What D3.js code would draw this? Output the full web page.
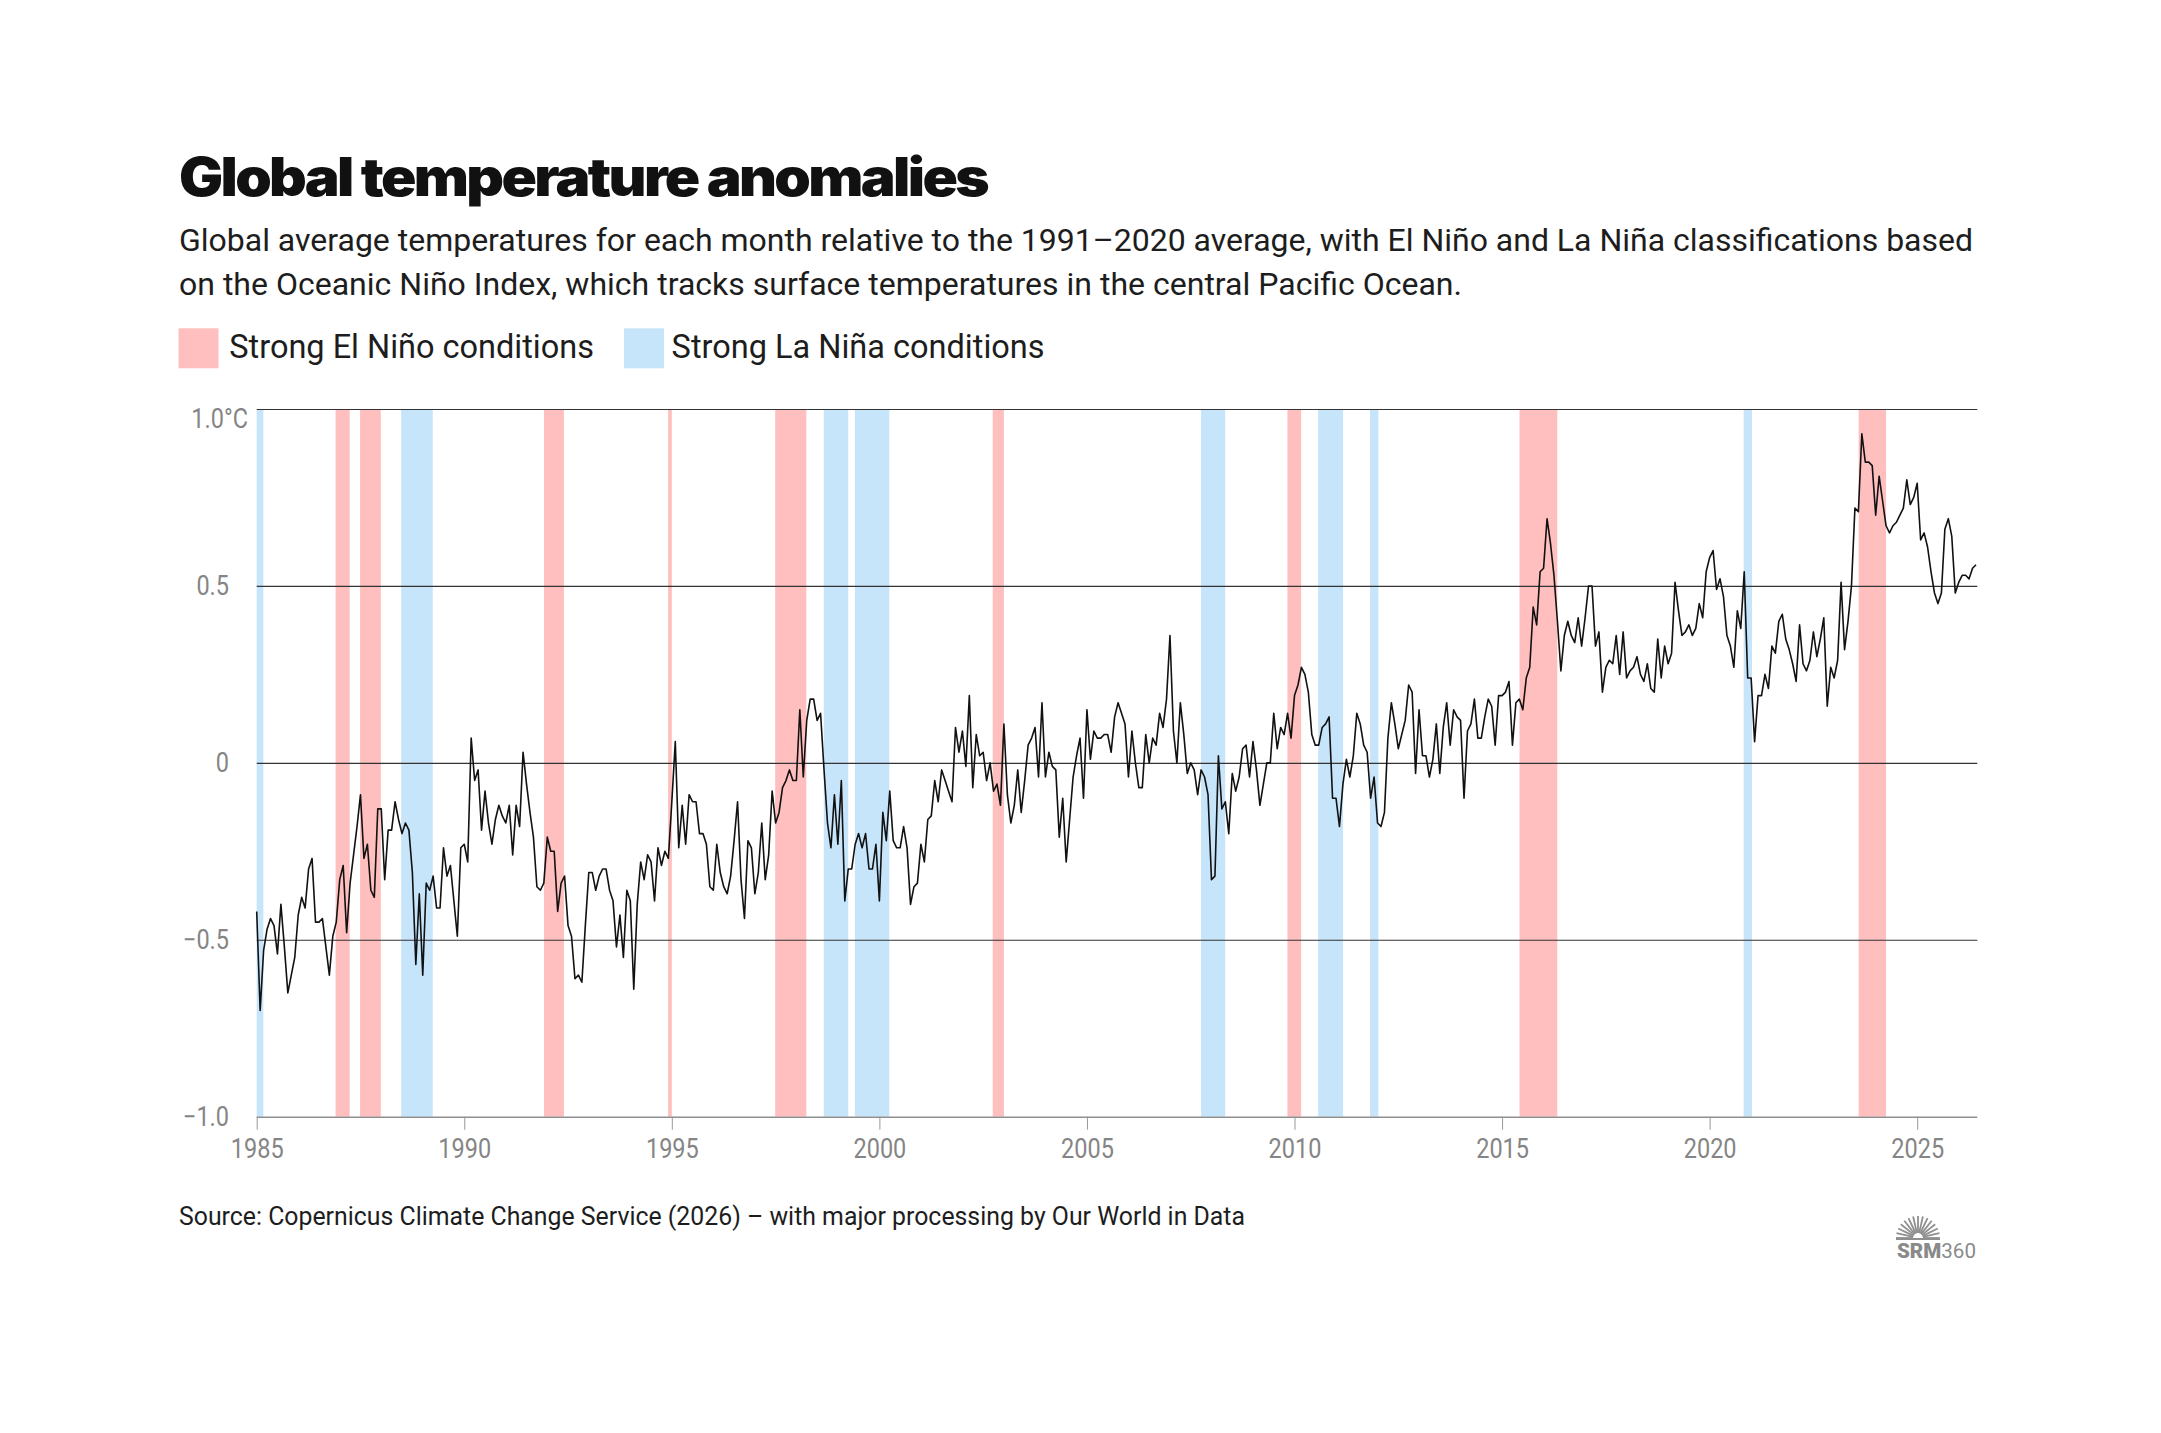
<!DOCTYPE html>
<html>
<head>
<meta charset="utf-8">
<script src="https://cdn.jsdelivr.net/npm/d3@7"></script>
<style>
  html, body { margin: 0; padding: 0; background: #ffffff; }
  svg { display: block; }
</style>
</head>
<body>
<svg id="chart" width="2161" height="1433"></svg>
<script>
// ---------------- DATA ----------------
const startYear = 1985; // first monthly value = January 1985
const anomalies1985_1994 = [
  -0.42,-0.70,-0.53,-0.47,-0.44,-0.46,-0.54,-0.40,-0.52,-0.65,-0.60,-0.55,
  -0.43,-0.38,-0.41,-0.30,-0.27,-0.45,-0.45,-0.44,-0.52,-0.60,-0.49,-0.45,
  -0.33,-0.29,-0.48,-0.34,-0.26,-0.18,-0.09,-0.27,-0.23,-0.36,-0.38,-0.13,
  -0.13,-0.33,-0.19,-0.19,-0.11,-0.16,-0.20,-0.17,-0.19,-0.31,-0.57,-0.37,
  -0.60,-0.34,-0.36,-0.32,-0.41,-0.41,-0.24,-0.32,-0.29,-0.39,-0.49,-0.24,
  -0.23,-0.28, 0.07,-0.05,-0.02,-0.19,-0.08,-0.17,-0.23,-0.16,-0.12,-0.15,
  -0.17,-0.12,-0.26,-0.12,-0.18, 0.03,-0.06,-0.14,-0.21,-0.35,-0.36,-0.34,
  -0.21,-0.25,-0.25,-0.42,-0.34,-0.32,-0.46,-0.49,-0.61,-0.60,-0.62,-0.46,
  -0.31,-0.31,-0.36,-0.32,-0.30,-0.30,-0.36,-0.39,-0.52,-0.43,-0.55,-0.36,
  -0.39,-0.64,-0.40,-0.28,-0.33,-0.26,-0.28,-0.39,-0.24,-0.29,-0.25,-0.27
];
const anomalies1995_2004 = [
  -0.11, 0.06,-0.24,-0.12,-0.23,-0.09,-0.11,-0.11,-0.20,-0.20,-0.23,-0.35,
  -0.36,-0.23,-0.31,-0.35,-0.37,-0.32,-0.22,-0.11,-0.33,-0.44,-0.22,-0.24,
  -0.37,-0.31,-0.17,-0.33,-0.26,-0.08,-0.17,-0.14,-0.07,-0.05,-0.02,-0.05,
  -0.05, 0.15,-0.04, 0.12, 0.18, 0.18, 0.12, 0.14,-0.02,-0.17,-0.24,-0.09,
  -0.23,-0.05,-0.39,-0.30,-0.30,-0.23,-0.20,-0.24,-0.20,-0.30,-0.30,-0.23,
  -0.39,-0.14,-0.22,-0.08,-0.22,-0.24,-0.24,-0.18,-0.24,-0.40,-0.35,-0.34,
  -0.23,-0.28,-0.16,-0.15,-0.05,-0.11,-0.02,-0.05,-0.08,-0.11, 0.10, 0.03,
   0.09,-0.01, 0.19,-0.07, 0.08, 0.02, 0.03,-0.05, 0.00,-0.08,-0.06,-0.12,
   0.11,-0.09,-0.17,-0.12,-0.02,-0.14,-0.05, 0.05, 0.07, 0.10,-0.04, 0.17,
  -0.04, 0.03,-0.01,-0.02,-0.21,-0.10,-0.28,-0.16,-0.04, 0.02, 0.07,-0.10
];
const anomalies2005_2014 = [
   0.15, 0.01, 0.09, 0.07, 0.07, 0.08, 0.08, 0.03, 0.13, 0.17, 0.14, 0.11,
  -0.04, 0.09, 0.00,-0.07,-0.07, 0.08, 0.00, 0.07, 0.05, 0.14, 0.10, 0.18,
   0.36, 0.09, 0.00, 0.17, 0.08,-0.03, 0.00,-0.02,-0.09,-0.02,-0.04,-0.09,
  -0.33,-0.32, 0.02,-0.13,-0.11,-0.20,-0.03,-0.08,-0.04, 0.04, 0.05,-0.04,
   0.06,-0.02,-0.12,-0.06, 0.00, 0.00, 0.14, 0.04, 0.10, 0.08, 0.14, 0.07,
   0.19, 0.22, 0.27, 0.25, 0.20, 0.08, 0.05, 0.05, 0.10, 0.11, 0.13,-0.10,
  -0.10,-0.18,-0.06, 0.01,-0.04, 0.02, 0.14, 0.11, 0.05, 0.03,-0.10,-0.04,
  -0.17,-0.18,-0.14, 0.07, 0.17, 0.11, 0.04, 0.08, 0.12, 0.22, 0.20,-0.03,
   0.15, 0.02, 0.02,-0.04, 0.01, 0.11,-0.03, 0.10, 0.17, 0.05, 0.15, 0.13,
   0.12,-0.10, 0.09, 0.11, 0.18, 0.07, 0.07, 0.13, 0.18, 0.16, 0.05, 0.19
];
const anomalies2015_2026 = [
   0.19, 0.20, 0.23, 0.05, 0.17, 0.18, 0.15, 0.24, 0.27, 0.44, 0.39, 0.54,
   0.55, 0.69, 0.62, 0.53, 0.40, 0.26, 0.36, 0.40, 0.36, 0.34, 0.41, 0.33,
   0.41, 0.50, 0.50, 0.33, 0.37, 0.20, 0.27, 0.29, 0.28, 0.36, 0.25, 0.37,
   0.24, 0.26, 0.27, 0.30, 0.25, 0.23, 0.28, 0.21, 0.20, 0.35, 0.24, 0.33,
   0.28, 0.31, 0.51, 0.43, 0.36, 0.37, 0.39, 0.36, 0.38, 0.45, 0.41, 0.54,
   0.58, 0.60, 0.49, 0.52, 0.47, 0.36, 0.33, 0.27, 0.43, 0.38, 0.54, 0.24,
   0.24, 0.06, 0.19, 0.19, 0.25, 0.21, 0.33, 0.31, 0.40, 0.42, 0.35, 0.32,
   0.28, 0.23, 0.39, 0.28, 0.26, 0.29, 0.37, 0.30, 0.35, 0.41, 0.16, 0.27,
   0.24, 0.29, 0.51, 0.32, 0.40, 0.50, 0.72, 0.71, 0.93, 0.85, 0.85, 0.84,
   0.70, 0.81, 0.74, 0.67, 0.65, 0.67, 0.68, 0.70, 0.72, 0.80, 0.73, 0.75,
   0.79, 0.63, 0.65, 0.61, 0.54, 0.48, 0.45, 0.48, 0.66, 0.69, 0.64, 0.48,
   0.51, 0.53, 0.53, 0.52, 0.55, 0.56
];

// Strong El Niño / La Niña periods (decimal years: start, end)
const elNinoPeriods = [
  [1986.90,1987.24],[1987.49,1987.99],[1991.92,1992.40],[1994.91,1995.00],
  [1997.49,1998.24],[2002.73,2003.00],[2009.83,2010.16],[2015.42,2016.33],
  [2023.59,2024.25]
];
const laNinaPeriods = [
  [1985.00,1985.16],[1988.48,1989.24],[1998.66,1999.25],[1999.41,2000.24],
  [2007.75,2008.33],[2010.57,2011.17],[2011.82,2012.02],[2020.82,2021.02]
];

const xTickValues = [1985,1990,1995,2000,2005,2010,2015,2020,2025];
const yTickValues = [-1,-0.5,0,0.5,1];
const legendLabels = ["Strong El Niño conditions","Strong La Niña conditions"];

const titleText = "Global temperature anomalies";
const subtitleLines = [
  "Global average temperatures for each month relative to the 1991–2020 average, with El Niño and La Niña classifications based",
  "on the Oceanic Niño Index, which tracks surface temperatures in the central Pacific Ocean."
];
const sourceText = "Source: Copernicus Climate Change Service (2026) – with major processing by Our World in Data";

// ---------------- DRAW ----------------
const anomalies = [].concat(anomalies1985_1994, anomalies1995_2004, anomalies2005_2014, anomalies2015_2026);
const series = anomalies.map((v, i) => ({ t: startYear + i / 12, v: v }));

const RED = "#ffbfbf", BLUE = "#c6e4fa";
const svg = d3.select("#chart");

const plot = { left: 256.7, right: 1976, top: 409, bottom: 1116.7 };
const x = d3.scaleLinear()
  .domain([startYear, series[series.length - 1].t])
  .range([plot.left, plot.right]);
const y = d3.scaleLinear().domain([-1, 1]).range([plot.bottom, plot.top]);

function fitSpacing(sel, target) {
  const n = sel.text().length;
  const w = sel.node().getComputedTextLength();
  sel.attr("letter-spacing", ((target - w) / (n - 1)).toFixed(3));
}
function fitGlyphs(sel, target) {
  sel.attr("textLength", target).attr("lengthAdjust", "spacingAndGlyphs");
}
function condense(sel, f) {
  sel.each(function () {
    const w = this.getComputedTextLength();
    d3.select(this).attr("textLength", w * f).attr("lengthAdjust", "spacingAndGlyphs");
  });
}

// Title: heavy, tightly tracked
const title = svg.append("text")
  .attr("x", 179).attr("y", 196)
  .attr("font-family", "Inter, Roboto, sans-serif")
  .attr("font-weight", 900).attr("font-size", 53)
  .attr("letter-spacing", -2.4)
  .attr("fill", "#111111")
  .text(titleText);
fitGlyphs(title, 808);

// Subtitle
const subBase = [250.7, 295];
const subWidths = [1794, 1283];
subtitleLines.forEach((line, i) => {
  const t = svg.append("text")
    .attr("x", 179).attr("y", subBase[i])
    .attr("font-family", "Roboto, sans-serif")
    .attr("font-size", 31.5).attr("fill", "#1d1d1d")
    .text(line);
  fitGlyphs(t, subWidths[i]);
});

// Legend
const legendItems = [
  { label: legendLabels[0], color: RED, sx: 178.5, tx: 229.3, tw: 364.7 },
  { label: legendLabels[1], color: BLUE, sx: 624, tx: 671.6, tw: 373 }
];
legendItems.forEach(d => {
  svg.append("rect").attr("x", d.sx).attr("y", 328.3).attr("width", 40).attr("height", 40).attr("fill", d.color);
  const t = svg.append("text")
    .attr("x", d.tx).attr("y", 358.3)
    .attr("font-family", "Roboto, sans-serif")
    .attr("font-size", 32.5).attr("fill", "#1d1d1d")
    .text(d.label);
  fitSpacing(t, d.tw);
});

// Bands
const gBands = svg.append("g");
function bands(periods, color) {
  gBands.selectAll(null).data(periods).enter().append("rect")
    .attr("x", d => x(Math.max(d[0], startYear)))
    .attr("width", d => x(d[1]) - x(Math.max(d[0], startYear)))
    .attr("y", y(1)).attr("height", y(-1) - y(1))
    .attr("fill", color);
}
bands(elNinoPeriods, RED);
bands(laNinaPeriods, BLUE);

// Y axis with gridlines
const yAxis = d3.axisLeft(y)
  .tickValues(yTickValues)
  .tickSize(-(plot.right + 1.3 - plot.left))
  .tickPadding(plot.left - 229)
  .tickFormat(d => d === 0 ? "0" : d3.format(".1f")(d));
const gy = svg.append("g").attr("transform", `translate(${plot.left},0)`).call(yAxis);
gy.select(".domain").remove();
gy.selectAll(".tick line")
  .attr("stroke", "#333333").attr("stroke-width", 1.1)
  .attr("display", d => d === -1 ? "none" : null);
gy.selectAll(".tick text")
  .attr("font-family", "Roboto, sans-serif").attr("font-size", 27)
  .attr("fill", "#858585");
gy.selectAll(".tick").filter(d => d === 1).select("text")
  .text("1.0°C").attr("x", 248 - plot.left).attr("dy", "0.32em").attr("y", 10);
condense(gy.selectAll(".tick text"), 0.87);

// X axis
const xAxis = d3.axisBottom(x)
  .tickValues(xTickValues)
  .tickFormat(d3.format("d"))
  .tickSize(13).tickSizeOuter(0).tickPadding(9);
const gx = svg.append("g").attr("transform", `translate(0,${plot.bottom})`).call(xAxis);
gx.select(".domain").attr("stroke", "#8f8f8f").attr("stroke-width", 1.6)
  .attr("d", `M${plot.left},0.5H${plot.right + 1.3}`);
gx.selectAll(".tick line").attr("stroke", "#999999").attr("stroke-width", 1);
gx.selectAll(".tick text")
  .attr("font-family", "Roboto, sans-serif").attr("font-size", 27)
  .attr("fill", "#858585");
condense(gx.selectAll(".tick text"), 0.87);

// Line
const line = d3.line().x(d => x(d.t)).y(d => y(d.v));
svg.append("path").datum(series)
  .attr("d", line)
  .attr("fill", "none").attr("stroke", "#111111")
  .attr("stroke-width", 1.6).attr("stroke-linejoin", "round");

// Source
const src = svg.append("text")
  .attr("x", 179).attr("y", 1224.6)
  .attr("font-family", "Roboto, sans-serif")
  .attr("font-size", 25).attr("fill", "#1d1d1d")
  .text(sourceText);
fitGlyphs(src, 1066);

// SRM360 logo
const logo = svg.append("g").attr("fill", "none").attr("stroke", "#8f8f8f");
const cx = 1918, cy = 1238;
d3.range(15).forEach(k => {
  const a = Math.PI + k * Math.PI / 14;
  logo.append("line")
    .attr("x1", cx + 5 * Math.cos(a)).attr("y1", cy + 5 * Math.sin(a))
    .attr("x2", cx + 22 * Math.cos(a)).attr("y2", cy + 22 * Math.sin(a))
    .attr("stroke-width", 1.8);
});
logo.append("line").attr("x1", 1896).attr("x2", 1940).attr("y1", cy + 1).attr("y2", cy + 1).attr("stroke-width", 2);
const logoText = svg.append("text")
  .attr("x", 1897).attr("y", 1258)
  .attr("font-family", "Roboto, sans-serif").attr("font-size", 20)
  .attr("fill", "#8a8a8a");
logoText.append("tspan").attr("font-weight", 900).text("SRM");
logoText.append("tspan").attr("font-weight", 400).text("360");
fitGlyphs(logoText, 79);
</script>
</body>
</html>
